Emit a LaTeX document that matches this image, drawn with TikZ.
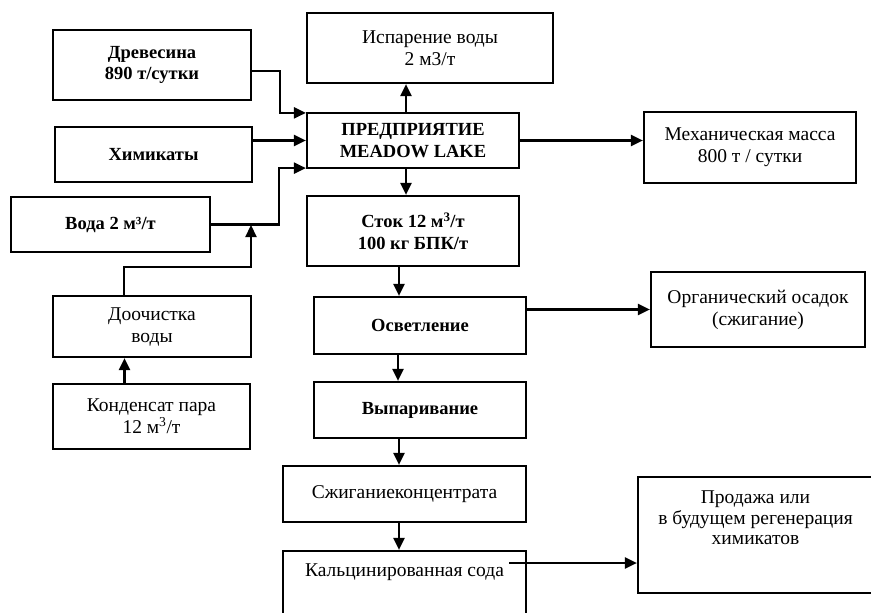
\documentclass[tikz,border=0pt]{standalone}
\usepackage{fontspec}
\setmainfont{Liberation Serif}
\usetikzlibrary{arrows.meta,calc}
\begin{document}
\begin{tikzpicture}[x=1pt,y=-1pt,
  box/.style={draw,line width=2.2pt,inner sep=0pt,align=center,font=\fontsize{19.5}{22}\selectfont},
  boxb/.style={box,font=\fontsize{18.5}{21.5}\selectfont\bfseries},
  txt/.style={inner sep=0pt,align=center,font=\fontsize{19.5}{20.5}\selectfont},
  arr/.style={line width=2.2pt,-{Triangle[length=12pt,width=11pt]}}]
\useasboundingbox (0,0) rectangle (871,613);
\clip (0,0) rectangle (871,613);
% left column
\node[boxb,minimum width=198,minimum height=70] (drev) at (152,65) {Древесина\\890 т/сутки};
\node[boxb,minimum width=197,minimum height=55] (chem) at (153.5,154.5) {Химикаты};
\node[boxb,minimum width=199,minimum height=55] (voda) at (110.5,224.5) {Вода 2 м³/т};
\node[box,minimum width=198,minimum height=61] (doo) at (152,326.5) {Доочистка\\воды};
\node[box,minimum width=197,minimum height=65] (cond) at (151.5,416.5) {Конденсат пара\\12 м\textsuperscript{3}/т};
% center column
\node[box,minimum width=246,minimum height=70] (evap) at (430,48) {Испарение воды\\2 м3/т};
\node[boxb,minimum width=212,minimum height=55] (plant) at (413,140.5) {ПРЕДПРИЯТИЕ\\MEADOW LAKE};
\node[boxb,minimum width=212,minimum height=70] (stok) at (413,231) {Сток 12 м\textsuperscript{3}/т\\100 кг БПК/т};
\node[boxb,minimum width=212,minimum height=57] (osv) at (420,325.5) {Осветление};
\node[boxb,minimum width=212,minimum height=56] (vyp) at (420,410) {Выпаривание};
\node[box,minimum width=243,minimum height=56] (szh) at (404.5,494) {Сжиганиеконцентрата};
\node[box,minimum width=243,minimum height=79] (kal) at (404.5,590.5) {};
\node[txt] (kaltxt) at (404.5,572) {Кальцинированная сода};
% right column
\node[box,minimum width=212,minimum height=71] (mech) at (750,147.5) {Механическая масса\\800 т / сутки};
\node[box,minimum width=214,minimum height=75] (org) at (758,309.5) {Органический осадок\\(сжигание)};
\node[box,minimum width=235,minimum height=116] (prod) at (755.5,535) {};
\node[txt] (prodtxt) at (755.5,518) {Продажа или\\в будущем регенерация\\химикатов};
% connectors
\draw[arr] ([yshift=-6pt]drev.east) -- ++(28,0) |- ([yshift=-1pt]plant.north west);
\draw[arr] (chem.east |- plant.west) -- (plant.west);
\draw[arr] (voda.east) -- ++(68,0) |- ([yshift=1pt]plant.south west);
\coordinate (vj) at (251,225);
\draw[arr] ([xshift=-28pt]doo.north) -- ++(0,-28) -| (vj);
\draw[arr] ([xshift=-27pt]cond.north) -- ([xshift=-27pt]cond.north |- doo.south);
\draw[arr] ([xshift=-7pt]plant.north) -- ([xshift=-7pt]plant.north |- evap.south);
\draw[arr] ([xshift=-7pt]plant.south) -- ([xshift=-7pt]plant.south |- stok.north);
\draw[arr] (plant.east) -- (plant.east -| mech.west);
\draw[arr] ([xshift=-14pt]stok.south) -- ([xshift=-14pt]stok.south |- osv.north);
\draw[arr] ([xshift=-22pt]osv.south) -- ([xshift=-22pt]osv.south |- vyp.north);
\draw[arr] ([xshift=-21pt]vyp.south) -- ([xshift=-21pt]vyp.south |- szh.north);
\draw[arr] ([xshift=-5.5pt]szh.south) -- ([xshift=-5.5pt]szh.south |- kal.north);
\draw[arr] (org.west -| osv.east) -- (org.west);
\coordinate (kalout) at (509,563);
\draw[arr] (kalout) -- (kalout -| prod.west);
\end{tikzpicture}
\end{document}
